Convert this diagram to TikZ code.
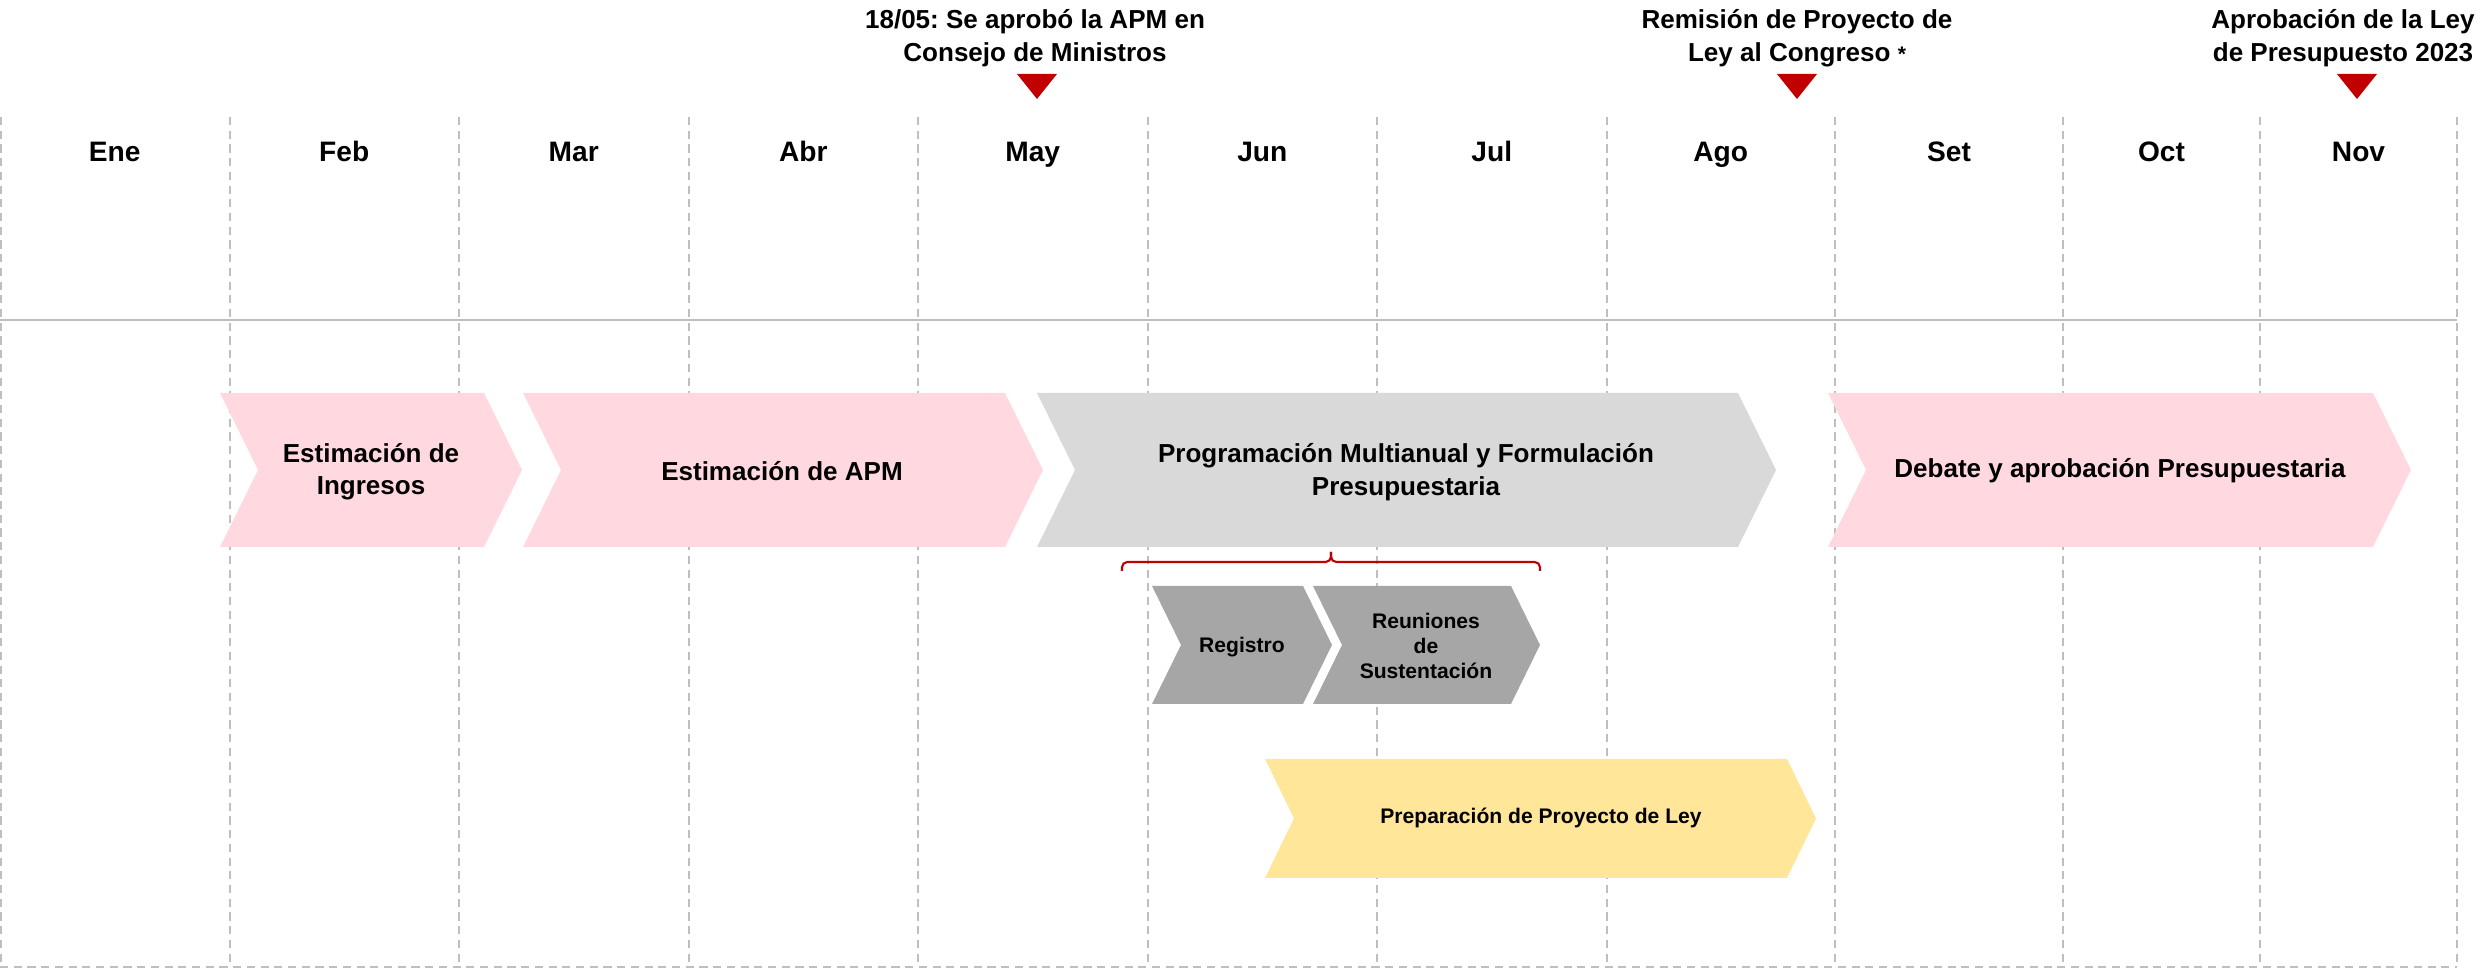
\documentclass[tikz,border=0pt]{standalone}
\usepackage{fontspec}
\setmainfont{Liberation Sans}
\frenchspacing

\definecolor{rosa}{HTML}{FFD9DF}
\definecolor{gris}{HTML}{D9D9D9}
\definecolor{grisosc}{HTML}{A6A6A6}
\definecolor{amarillo}{HTML}{FFE699}
\definecolor{rojo}{HTML}{C00000}
\definecolor{lineagris}{HTML}{BFBFBF}

\begin{document}
\begin{tikzpicture}[x=0.01cm, y=-0.01cm,
    rejilla/.style={line width=0.45pt, color=lineagris, dash pattern=on 2.3pt off 1.6pt},
    mes/.style={anchor=base, font=\fontsize{8}{9.6}\selectfont\bfseries},
    hito/.style={align=center, font=\fontsize{7.4}{9.4}\selectfont\bfseries},
    etapa/.style={align=center, font=\fontsize{7.4}{9.2}\selectfont\bfseries},
    subetapa/.style={align=center, font=\fontsize{6}{7.1}\selectfont\bfseries}]
\useasboundingbox (0,0) rectangle (2484,968);

%rejilla de meses
\foreach \x in {1,230,459,689,918,1148,1377,1607,1835,2063,2260,2457}
    \draw[rejilla] (\x,117) -- (\x,967);
\draw[rejilla] (0,967) -- (2457,967);
\draw[line width=0.6pt, color=lineagris] (0,320) -- (2457,320);

\foreach \x/\m in {114.75/Ene,344.25/Feb,573.75/Mar,803.25/Abr,1032.75/May,1262.25/Jun,
    1491.75/Jul,1720.75/Ago,1949/Set,2161.5/Oct,2358.5/Nov}
    \node[mes] (mes-\m) at (\x,162) {\m};

%hitos
\node[hito] (hito-apm) at (1035,38) {18/05: Se aprobó la APM en\\Consejo de Ministros};
\node[hito] (hito-rem) at (1797,38) {Remisión de Proyecto de\\Ley al Congreso {\fontsize{6}{7}\selectfont *}};
\node[hito] (hito-ley) at (2343,38) {Aprobación de la Ley\\de Presupuesto 2023};
\foreach \x in {1037,1797,2357}
    \fill[rojo] (\x-20,74) -- (\x+20,74) -- (\x,99) -- cycle;

%etapas
\foreach \xa/\xb/\col in {220/484/rosa,523/1005/rosa,1037/1738/gris,1828/2373/rosa}
    \fill[\col] (\xa,393) -- (\xb,393) -- ++(38,77) -- (\xb,547) -- (\xa,547) -- ++(38,-77) -- cycle;
\node[etapa] (ingresos) at (371,472) {Estimación de\\Ingresos};
\node[etapa] (apm) at (782,471) {Estimación de APM};
\node[etapa] (programacion) at (1406,472) {Programación Multianual y Formulación\\Presupuestaria};
\node[etapa] (debate) at (2120,471) {Debate y aprobación Presupuestaria};

%llave
\draw[rojo, line width=0.6pt, rounded corners=1.5] (1122,571) |- (1331,562) -- (1331,552);
\draw[rojo, line width=0.6pt, rounded corners=1.5] (1331,552) -- (1331,562) -| (1540,571);

%sub-etapas
\foreach \xa/\xb in {1152/1303,1313/1511}
    \fill[grisosc] (\xa,586) -- (\xb,586) -- ++(29,59) -- (\xb,704) -- (\xa,704) -- ++(29,-59) -- cycle;
\node[subetapa] (registro) at (1242,647) {Registro};
\node[subetapa] (reuniones) at (1426,646) {Reuniones\\de\\Sustentación};

\fill[amarillo] (1265,759) -- (1787,759) -- ++(29,59.5) -- (1787,878) -- (1265,878) -- ++(29,-59.5) -- cycle;
\node[subetapa] (preparacion) at (1541,818) {Preparación de Proyecto de Ley};
\end{tikzpicture}
\end{document}
